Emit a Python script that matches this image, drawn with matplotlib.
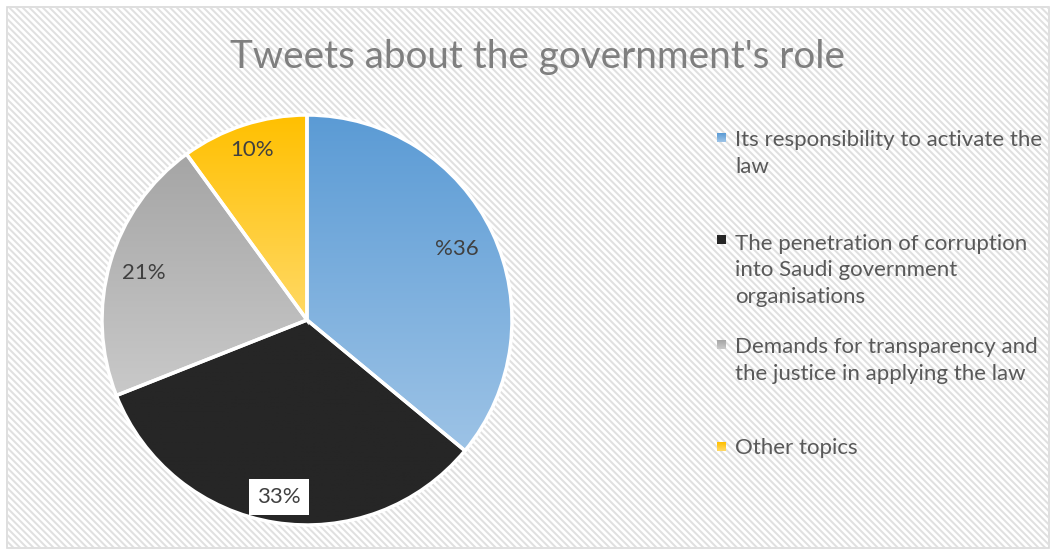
import numpy as np
import matplotlib
matplotlib.use('Agg')
import matplotlib.pyplot as plt
from matplotlib.patches import Rectangle
from matplotlib.collections import LineCollection
from matplotlib.colors import LinearSegmentedColormap

# 数据
categories = ['Its responsibility to activate the\nlaw',
              'The penetration of corruption\ninto Saudi government\norganisations',
              'Demands for transparency and\nthe justice in applying the law',
              'Other topics']
values = [36, 33, 21, 10]
pct_labels = ['%36', '33%', '21%', '10%']

# 渐变色 (上, 下)
grad_colors = [('#5B9BD5', '#9DC3E6'),
               ('#262626', '#262626'),
               ('#A5A5A5', '#C9C9C9'),
               ('#FFC000', '#FFD966')]

plt.rcParams['font.family'] = ['Lato', 'DejaVu Sans']

W, H = 1056, 554
fig = plt.figure(figsize=(W / 100, H / 100), dpi=100)
fig.patch.set_facecolor('white')

# 背景斜线
bg = fig.add_axes([0, 0, 1, 1])
bg.set_xlim(0, W)
bg.set_ylim(0, H)
bg.axis('off')

def stripes(x0, y0, w, h, color, step=6.7):
    clip = Rectangle((x0, y0), w, h, facecolor='none', edgecolor='none')
    bg.add_patch(clip)
    segs = []
    for s in np.arange(x0 - h, x0 + w + h, step):
        # 从左上到右下的斜线
        segs.append([(s, y0 + h), (s + h, y0)])
    lc = LineCollection(segs, colors=color, linewidths=1.45)
    bg.add_collection(lc)
    lc.set_clip_path(clip)

stripes(7, 6, W - 14, H - 13, '#E0E0E0')
bg.add_patch(Rectangle((700, H - 528), 342, 423, facecolor='white', edgecolor='none', alpha=0.55))
bg.add_patch(Rectangle((7, 6), W - 14, H - 13, facecolor='none', edgecolor='#D9D9D9', lw=1.2))

ax = fig.add_axes([0, 0, 1, 1])
ax.patch.set_alpha(0)
cx, cy, r = 307, H - 320, 205
wedges, _ = ax.pie(values, startangle=90, counterclock=False, center=(cx, cy), radius=r,
                   wedgeprops=dict(edgecolor='white', linewidth=2.5))

# 每个扇区竖直渐变
for w, (top, bot) in zip(wedges, grad_colors):
    cmap = LinearSegmentedColormap.from_list('g', [top, bot])
    bb = w.get_path().get_extents(w.get_patch_transform())
    grad = np.linspace(0, 1, 256).reshape(-1, 1)
    im = ax.imshow(grad, cmap=cmap, aspect='auto', extent=[bb.x0, bb.x1, bb.y0, bb.y1],
                   origin='upper', zorder=w.get_zorder() - 0.1)
    im.set_clip_path(w)
    w.set_facecolor('none')
ax.set_xlim(0, W)
ax.set_ylim(0, H)
ax.axis('off')

# 百分比标签
label_dist = [0.81, 0.875, 0.83, 0.87]
start = 90
for v, lab, d in zip(values, pct_labels, label_dist):
    mid = np.deg2rad(start - v / 100 * 360 / 2)
    start -= v / 100 * 360
    x = cx + d * r * np.cos(mid)
    y = cy + d * r * np.sin(mid)
    box = None
    if lab == '33%':
        box = dict(facecolor='white', edgecolor='none', boxstyle='square,pad=0.35')
    ax.text(x, y, lab, ha='center', va='center', fontsize=16, color='#404040', bbox=box, zorder=5)

# 标题
fig.text(537 / W, 1 - 57 / H, "Tweets about the government's role", ha='center', va='center',
         fontsize=27.8, color='#7F7F7F')

# 图例 (每项第一行基线位置, 行距 28px)
leg_y = [145, 247, 352, 454]
line_step = 28
for cat, (top, bot), y in zip(categories, grad_colors, leg_y):
    cmap = LinearSegmentedColormap.from_list('g', [top, bot])
    ax.imshow(np.linspace(0, 1, 16).reshape(-1, 1), cmap=cmap, aspect='auto',
              extent=[717, 726, H - y + 3, H - y + 12], origin='upper', zorder=5)
    n = cat.count('\n')
    ax.text(735, H - y - n * line_step, cat, ha='left', va='baseline', fontsize=16,
            color='#595959', linespacing=1.42)
ax.set_xlim(0, W)
ax.set_ylim(0, H)

fig.savefig('out.png', dpi=100)
